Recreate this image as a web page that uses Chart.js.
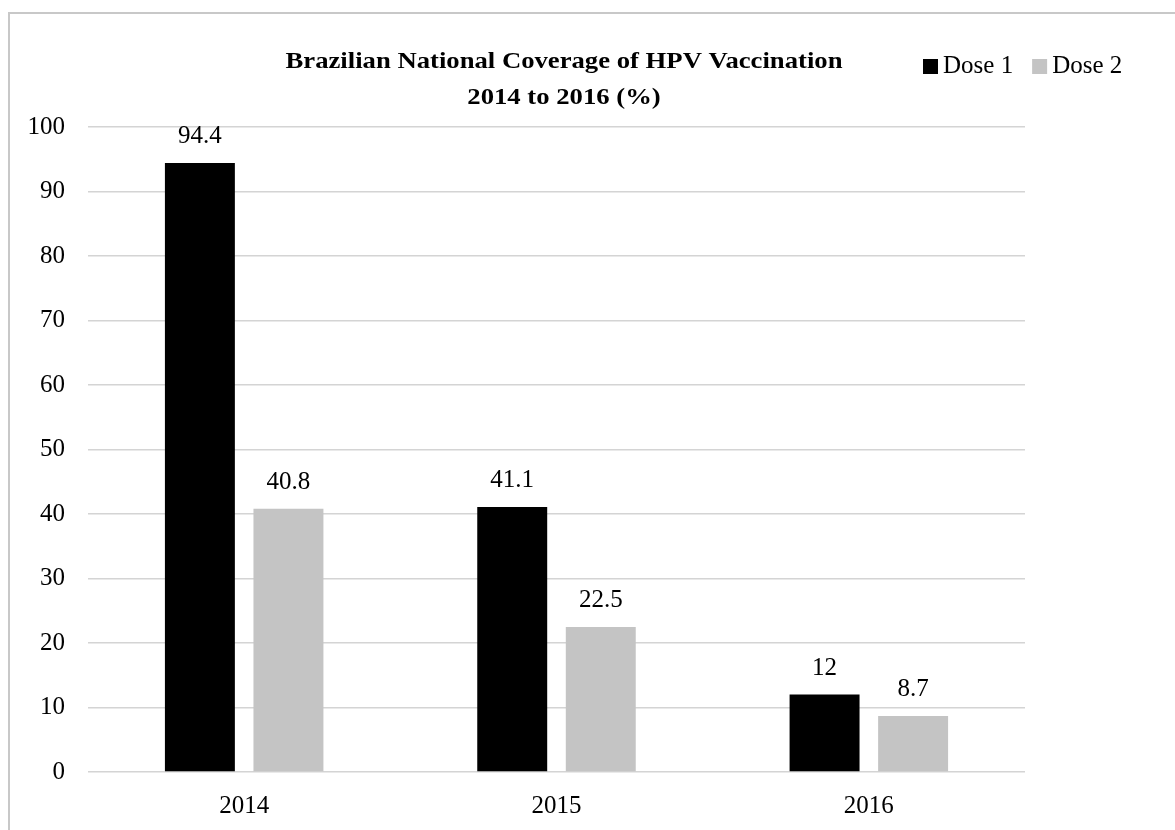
<!DOCTYPE html>
<html>
<head>
<title>HPV Vaccination Coverage</title>
<script src="https://cdn.jsdelivr.net/npm/chart.js"></script>
<style>
  body { margin: 0; background: #fff; }
  #frame {
    position: absolute; left: 8px; top: 12px; width: 1200px; height: 900px;
    border-top: 2px solid #c8c8c8; border-left: 2px solid #c8c8c8;
  }
  #wrap { position: absolute; left: 0; top: 0; width: 1175px; height: 830px; }
</style>
</head>
<body>
<div id="frame"></div>
<div id="wrap"><canvas id="chart"></canvas></div>
<script>
  const years = ['2014', '2015', '2016'];
  const dose1 = [94.4, 41.1, 12];
  const dose2 = [40.8, 22.5, 8.7];
  const titleLines = ['Brazilian National Coverage of HPV Vaccination', '2014 to 2016 (%)'];

  const serif = "'Liberation Serif', 'Times New Roman', serif";

  // title + legend drawn in the band above the plot
  const headerPlugin = {
    id: 'header',
    afterDraw(chart) {
      const ctx = chart.ctx;
      ctx.save();
      ctx.fillStyle = '#000';
      ctx.textAlign = 'center';
      ctx.textBaseline = 'middle';
      ctx.font = 'bold 23px ' + serif;
      // the original title is set wide, stretch it a little
      const cx = 564;
      ctx.save();
      ctx.translate(cx, 0);
      ctx.scale(1.16, 1);
      ctx.fillText(titleLines[0], 0, 62);
      ctx.fillText(titleLines[1], 0, 98);
      ctx.restore();

      // legend
      ctx.font = '25px ' + serif;
      ctx.textAlign = 'left';
      let x = 923;
      chart.data.datasets.forEach(ds => {
        ctx.fillStyle = ds.backgroundColor;
        ctx.fillRect(x, 59, 15, 15);
        ctx.fillStyle = '#000';
        ctx.fillText(ds.label, x + 20, 66);
        x += 20 + ctx.measureText(ds.label).width + 19;
      });
      ctx.restore();
    }
  };

  // value labels above bars
  const valueLabels = {
    id: 'valueLabels',
    afterDatasetsDraw(chart) {
      const ctx = chart.ctx;
      ctx.save();
      ctx.fillStyle = '#000';
      ctx.font = '25px ' + serif;
      ctx.textAlign = 'center';
      ctx.textBaseline = 'bottom';
      chart.data.datasets.forEach((ds, i) => {
        chart.getDatasetMeta(i).data.forEach((bar, j) => {
          ctx.fillText(String(ds.data[j]), bar.x, bar.y - 14);
        });
      });
      ctx.restore();
    }
  };

  new Chart(document.getElementById('chart'), {
    type: 'bar',
    data: {
      labels: years,
      datasets: [
        { label: 'Dose 1', data: dose1, backgroundColor: '#000000' },
        { label: 'Dose 2', data: dose2, backgroundColor: '#c4c4c4' }
      ]
    },
    options: {
      responsive: true,
      maintainAspectRatio: false,
      animation: false,
      layout: { padding: { left: 0, right: 150, top: 127, bottom: 0 } },
      datasets: { bar: { categoryPercentage: 0.567, barPercentage: 0.79 } },
      plugins: {
        legend: { display: false },
        title: { display: false },
        tooltip: { enabled: false }
      },
      scales: {
        x: {
          grid: { display: false, drawTicks: false },
          border: { display: false },
          ticks: { color: '#000', font: { family: serif, size: 25 }, padding: 19 },
          afterFit(scale) { scale.height = 58; }
        },
        y: {
          min: 0, max: 100,
          grid: { color: '#d4d4d4', lineWidth: 1.5, drawTicks: false },
          border: { display: false },
          ticks: { stepSize: 10, color: '#000', font: { family: serif, size: 25 }, padding: 23 },
          afterFit(scale) { scale.width = 88; }
        }
      }
    },
    plugins: [headerPlugin, valueLabels]
  });
</script>
</body>
</html>
